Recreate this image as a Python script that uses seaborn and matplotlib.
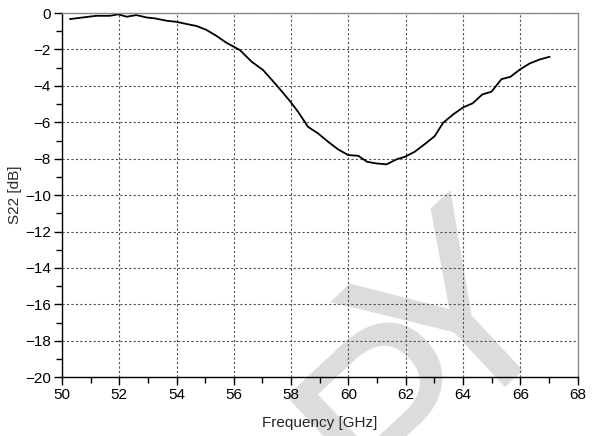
import pandas as pd
import seaborn as sns
import matplotlib.pyplot as plt
from matplotlib.ticker import MultipleLocator

freq = [50.28, 50.63, 51.2, 51.67, 51.97, 52.26, 52.6, 52.95, 53.24, 53.65, 54.0,
        54.35, 54.7, 55.05, 55.4, 55.74, 56.21, 56.62, 57.02, 57.49, 57.95, 58.24,
        58.59, 58.94, 59.29, 59.64, 59.99, 60.34, 60.65, 60.98, 61.33, 61.67, 61.96,
        62.31, 62.66, 63.01, 63.3, 63.65, 64.0, 64.33, 64.67, 64.99, 65.34, 65.65,
        66.0, 66.32, 66.67, 67.02]
s22 = [-0.33, -0.26, -0.15, -0.15, -0.07, -0.2, -0.11, -0.24, -0.29, -0.42, -0.48,
       -0.6, -0.71, -0.93, -1.26, -1.63, -2.03, -2.67, -3.13, -3.96, -4.82, -5.42,
       -6.25, -6.61, -7.07, -7.49, -7.8, -7.84, -8.17, -8.26, -8.31, -8.04, -7.9,
       -7.62, -7.2, -6.76, -6.03, -5.57, -5.18, -4.96, -4.47, -4.32, -3.63, -3.5,
       -3.08, -2.77, -2.55, -2.4]

df = pd.DataFrame({"freq": freq, "s22": s22})

sns.set_style("ticks")
plt.rcParams["font.family"] = ["Liberation Sans", "DejaVu Sans"]

fig = plt.figure(figsize=(5.95, 4.36), dpi=100)
ax = fig.add_axes([0.104, 0.135, 0.867, 0.835])
ax.set_facecolor("none")

sns.lineplot(data=df, x="freq", y="s22", color="black", linewidth=1.3, ax=ax)

ax.set_xlim(50, 68)
ax.set_ylim(-20, 0)
ax.xaxis.set_major_locator(MultipleLocator(2))
ax.xaxis.set_minor_locator(MultipleLocator(1))
ax.yaxis.set_major_locator(MultipleLocator(2))
ax.yaxis.set_minor_locator(MultipleLocator(1))
ax.tick_params(which="major", direction="out", length=6, width=1, labelsize=11, pad=2, colors="black")
ax.tick_params(which="minor", direction="out", length=4, width=1, colors="black")
ax.grid(True, which="major", linestyle=(0, (2, 2)), linewidth=0.8, color="#505050")

for side in ["left", "bottom"]:
    ax.spines[side].set_color("black")
    ax.spines[side].set_linewidth(1.0)
for side in ["top", "right"]:
    ax.spines[side].set_visible(True)
    ax.spines[side].set_color("#888888")
    ax.spines[side].set_linewidth(1.0)

ax.set_xlabel("Frequency [GHz]", fontsize=11, labelpad=10)
ax.set_ylabel("S22 [dB]", fontsize=11, labelpad=2)

# watermark (only the end of it shows)
wm = dict(fontsize=190, color="#dcdcdc", rotation=43, rotation_mode="anchor",
          ha="center", va="baseline", zorder=-1)
fig.text(0.761, -0.076, "P", **wm)
fig.text(0.861, 0.140, "Y", **wm)

fig.savefig("out.png", dpi=100)
